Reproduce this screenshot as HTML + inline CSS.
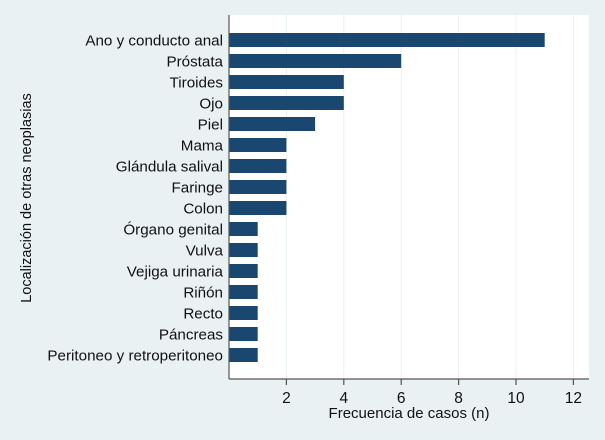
<!DOCTYPE html>
<html><head><meta charset="utf-8"><style>
body{margin:0;background:#e9f1f3;}
svg{display:block;font-family:"Liberation Sans",sans-serif;}
</style></head><body>
<svg id="c" width="605" height="440">
<rect x="0" y="0" width="605" height="440" fill="#e9f1f3"/>
<rect x="229" y="15" width="360" height="364" fill="#ffffff"/>
<g id="grid"></g><g id="bars"></g><g id="labels"></g><g id="ticks"></g>
<line x1="229" y1="15" x2="229" y2="379" stroke="#555" stroke-width="1.2"/>
<line x1="229" y1="379" x2="589" y2="379" stroke="#555" stroke-width="1.2"/>
<text x="409" y="418" font-size="15" text-anchor="middle" fill="#111">Frecuencia de casos (n)</text>
<text transform="translate(31,198) rotate(-90)" font-size="14.5" text-anchor="middle" fill="#111">Localización de otras neoplasias</text>
</svg>
<script>
const categories=["Ano y conducto anal","Próstata","Tiroides","Ojo","Piel","Mama","Glándula salival","Faringe","Colon","Órgano genital","Vulva","Vejiga urinaria","Riñón","Recto","Páncreas","Peritoneo y retroperitoneo"];
const values=[11,6,4,4,3,2,2,2,2,1,1,1,1,1,1,1];
const ticks=[2,4,6,8,10,12];
const NS="http://www.w3.org/2000/svg";
const x=v=>229+v*28.7;
const y=i=>40+i*21;
function mk(t,a,p){const e=document.createElementNS(NS,t);for(const k in a)e.setAttribute(k,a[k]);p.appendChild(e);return e;}
const G=document.getElementById('grid'),B=document.getElementById('bars'),L=document.getElementById('labels'),T=document.getElementById('ticks');
ticks.forEach(t=>{
 const g=mk('line',{x1:x(t),x2:x(t),y1:15,y2:379,stroke:'#eaf0f3','stroke-width':1},G);
 
 
 const tk=mk('line',{x1:x(t),x2:x(t),y1:379,y2:385,stroke:'#555','stroke-width':1.2},T);
 
 
 const tl=mk('text',{x:x(t),y:403,'font-size':15.5,'text-anchor':'middle',fill:'#111'},T);
 tl.textContent=t;
 
 
});
categories.forEach((c,i)=>{
 const r=mk('rect',{x:229,y:y(i)-7,width:x(values[i])-229,height:14,fill:'#1a476f'},B);
 
 
 const t=mk('text',{x:223,y:y(i)+5.5,'font-size':15.2,'text-anchor':'end',fill:'#111'},L);
 t.textContent=c;
 
 
});
</script>
</body></html>
